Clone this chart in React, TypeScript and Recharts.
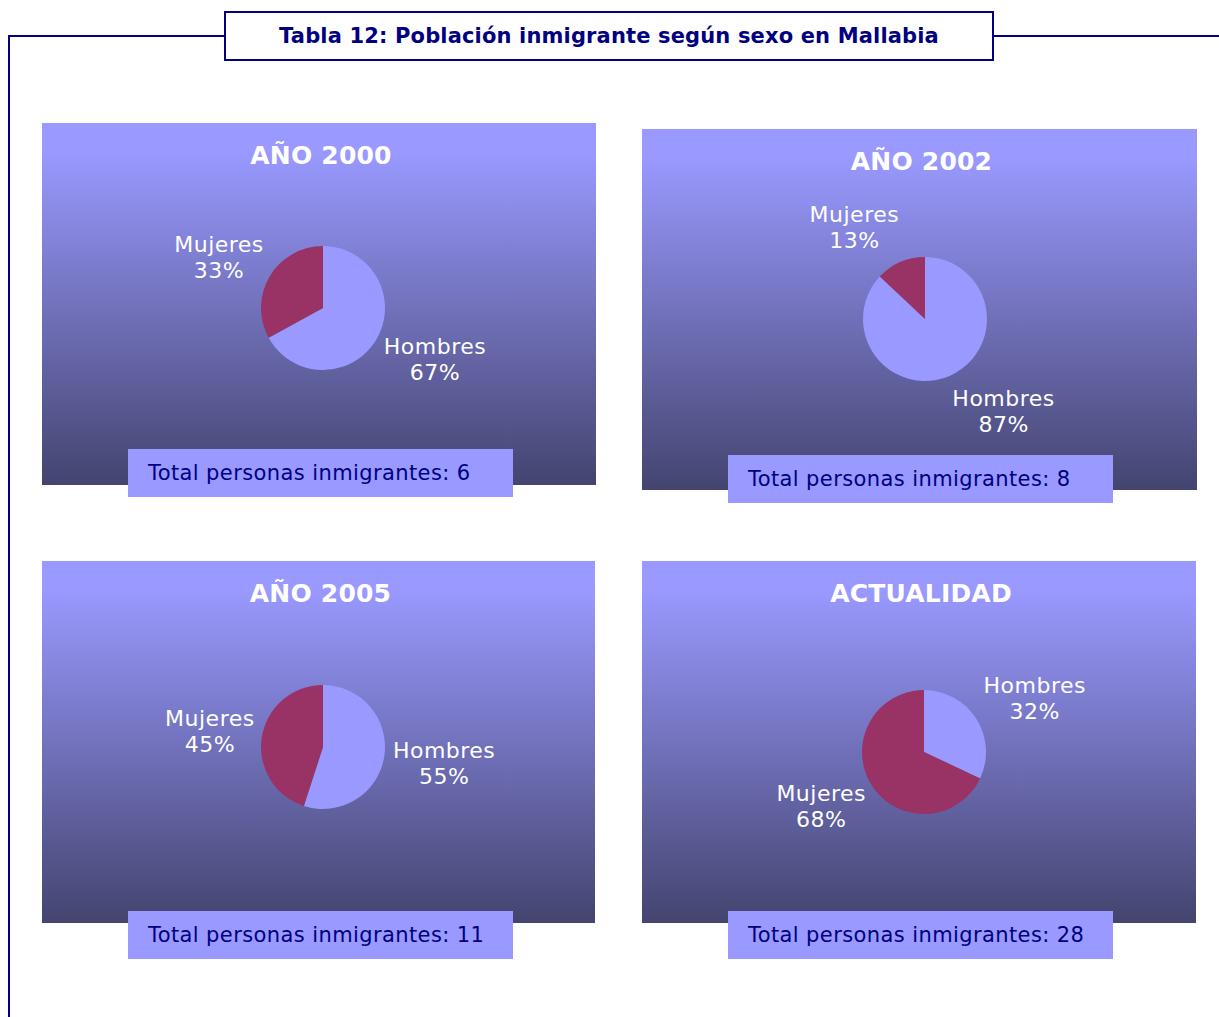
import React from 'react';
import { PieChart, Pie, Cell } from 'recharts';

const chartTitle = 'Tabla 12: Población inmigrante según sexo en Mallabia';
const periods = ['AÑO 2000', 'AÑO 2002', 'AÑO 2005', 'ACTUALIDAD'];
const sexes = ['Hombres', 'Mujeres'];
const hombresPct = [67, 87, 55, 32];
const mujeresPct = [33, 13, 45, 68];
const totals = [6, 8, 11, 28];

const sexColors = ['#9999FF', '#993366'];
const navy = '#000080';
const font = '"DejaVu Sans", Verdana, sans-serif';

// panel boxes on the page (left, top, width, height), pie centre inside the panel, total box top
const panels = [
  { left: 42, top: 123, width: 554, height: 362, cx: 281, cy: 185, boxTop: 449 },
  { left: 642, top: 129, width: 555, height: 361, cx: 283, cy: 190, boxTop: 455 },
  { left: 42, top: 561, width: 553, height: 362, cx: 281, cy: 186, boxTop: 911 },
  { left: 642, top: 561, width: 554, height: 362, cx: 282, cy: 191, boxTop: 911 },
];

const RADIAN = Math.PI / 180;

const renderLabel = (props: any) => {
  const { cx, cy, midAngle, outerRadius, name, value } = props;
  const cos = Math.cos(midAngle * RADIAN);
  const sin = Math.sin(midAngle * RADIAN);
  const r = outerRadius + 10;
  const halfW = 46;
  const halfH = 28;
  const x = cx + cos * r + Math.sign(cos) * halfW + 4;
  const y = cy - sin * (r + halfH);
  return (
    <text
      x={x}
      y={y}
      textAnchor="middle"
      fill="#FFFFFF"
      fontSize={22}
      fontFamily={font}
      letterSpacing={0.5}
    >
      <tspan x={x} y={y - 5}>{name}</tspan>
      <tspan x={x} y={y + 21}>{`${value}%`}</tspan>
    </text>
  );
};

function Panel({ index }: { index: number }) {
  const p = panels[index];
  const data = sexes.map((s, i) => ({
    name: s,
    value: i === 0 ? hombresPct[index] : mujeresPct[index],
  }));
  return (
    <div
      style={{
        position: 'absolute',
        left: p.left,
        top: p.top,
        width: p.width,
        height: p.height,
        background: 'linear-gradient(to bottom, #9999FF 8%, #44446F 100%)',
      }}
    >
      <div
        style={{
          position: 'absolute',
          left: 0,
          top: 18,
          width: '100%',
          textAlign: 'center',
          color: '#FFFFFF',
          fontWeight: 'bold',
          fontSize: 25,
          fontFamily: font,
          letterSpacing: 0.2,
          paddingLeft: 4,
          boxSizing: 'border-box',
        }}
      >
        {periods[index]}
      </div>
      <div style={{ position: 'absolute', left: 0, top: 0 }}>
        <PieChart
          width={p.width}
          height={p.height}
          margin={{ top: 0, right: 0, bottom: 0, left: 0 }}
        >
          <Pie
            data={data}
            dataKey="value"
            nameKey="name"
            cx={p.cx}
            cy={p.cy}
            outerRadius={62}
            startAngle={90}
            endAngle={-270}
            stroke="none"
            label={renderLabel}
            labelLine={false}
            isAnimationActive={false}
          >
            {data.map((d, i) => (
              <Cell key={d.name} fill={sexColors[i]} />
            ))}
          </Pie>
        </PieChart>
      </div>
    </div>
  );
}

function TotalBox({ index }: { index: number }) {
  const p = panels[index];
  return (
    <div
      style={{
        position: 'absolute',
        left: p.left + 86,
        top: p.boxTop,
        width: 385,
        height: 48,
        background: '#9999FF',
        color: navy,
        fontFamily: font,
        fontSize: 21,
        letterSpacing: 0.4,
        lineHeight: '48px',
        paddingLeft: 20,
        boxSizing: 'border-box',
        whiteSpace: 'nowrap',
      }}
    >
      {`Total personas inmigrantes: ${totals[index]}`}
    </div>
  );
}

export default function App() {
  return (
    <div
      style={{
        position: 'absolute',
        left: 0,
        top: 0,
        width: 1219,
        height: 1017,
        background: '#FFFFFF',
        overflow: 'hidden',
      }}
    >
      <svg
        width={1219}
        height={1017}
        style={{ position: 'absolute', left: 0, top: 0 }}
      >
        <polyline
          points="9,1017 9,36 225,36"
          fill="none"
          stroke={navy}
          strokeWidth={2}
        />
        <line x1={993} y1={36} x2={1219} y2={36} stroke={navy} strokeWidth={2} />
      </svg>
      <div
        style={{
          position: 'absolute',
          left: 224,
          top: 11,
          width: 770,
          height: 50,
          border: `2px solid ${navy}`,
          boxSizing: 'border-box',
          background: '#FFFFFF',
          color: navy,
          fontFamily: font,
          fontWeight: 'bold',
          fontSize: 21,
          letterSpacing: 0.15,
          lineHeight: '46px',
          textAlign: 'center',
          whiteSpace: 'nowrap',
        }}
      >
        {chartTitle}
      </div>
      {periods.map((_, i) => (
        <Panel key={i} index={i} />
      ))}
      {periods.map((_, i) => (
        <TotalBox key={`t${i}`} index={i} />
      ))}
    </div>
  );
}
